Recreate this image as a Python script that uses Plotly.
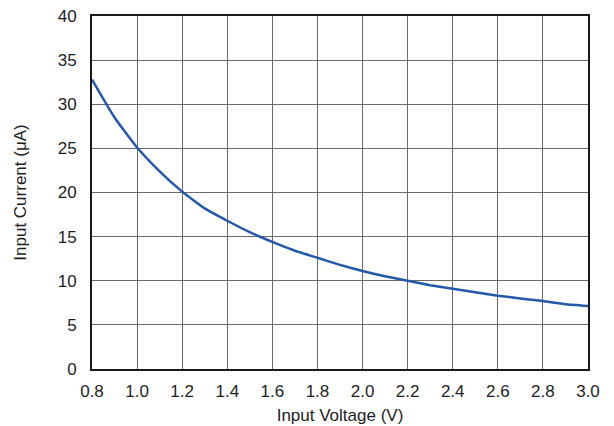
import plotly.graph_objects as go

voltage = [0.8, 0.9, 1.0, 1.1, 1.2, 1.3, 1.4, 1.5, 1.6, 1.7, 1.8, 1.9,
           2.0, 2.1, 2.2, 2.3, 2.4, 2.5, 2.6, 2.7, 2.8, 2.9, 3.0]
current = [32.8, 28.5, 25.1, 22.4, 20.1, 18.2, 16.8, 15.5, 14.4, 13.4, 12.6, 11.8,
           11.1, 10.5, 10.0, 9.5, 9.1, 8.7, 8.3, 8.0, 7.7, 7.35, 7.15]

x_ticks = [0.8, 1.0, 1.2, 1.4, 1.6, 1.8, 2.0, 2.2, 2.4, 2.6, 2.8, 3.0]
y_ticks = [0, 5, 10, 15, 20, 25, 30, 35, 40]

font_family = "Liberation Sans, Arial, sans-serif"

fig = go.Figure()
fig.add_trace(go.Scatter(
    x=voltage, y=current, mode="lines",
    line=dict(color="#2458a8", width=2.5, shape="spline", smoothing=0.4),
    showlegend=False,
))

axis_common = dict(
    showgrid=True, gridcolor="#6a6a6a", gridwidth=1,
    showline=True, linecolor="#1a1a1a", linewidth=2, mirror=True,
    ticks="", zeroline=False, automargin=False,
    tickfont=dict(family=font_family, size=17, color="#1e1e1e"),
    title_font=dict(family=font_family, size=17, color="#1e1e1e"),
)

fig.update_layout(
    width=614, height=426,
    margin=dict(l=92, r=26, t=16, b=57),
    paper_bgcolor="white", plot_bgcolor="white",
    xaxis=dict(range=[0.8, 3.0], tickvals=x_ticks,
               ticktext=[f"{v:.1f}" for v in x_ticks],
               title=dict(text="Input Voltage (V)", standoff=9),
               ticklabelstandoff=6, **axis_common),
    yaxis=dict(range=[0, 40], tickvals=y_ticks,
               ticktext=[str(v) for v in y_ticks],
               title=dict(text="Input Current (μA)", standoff=27),
               ticklabelstandoff=10, **axis_common),
)

fig.write_html("out.html", config={"displayModeBar": False},
               post_script="document.body.style.margin='0px';")
